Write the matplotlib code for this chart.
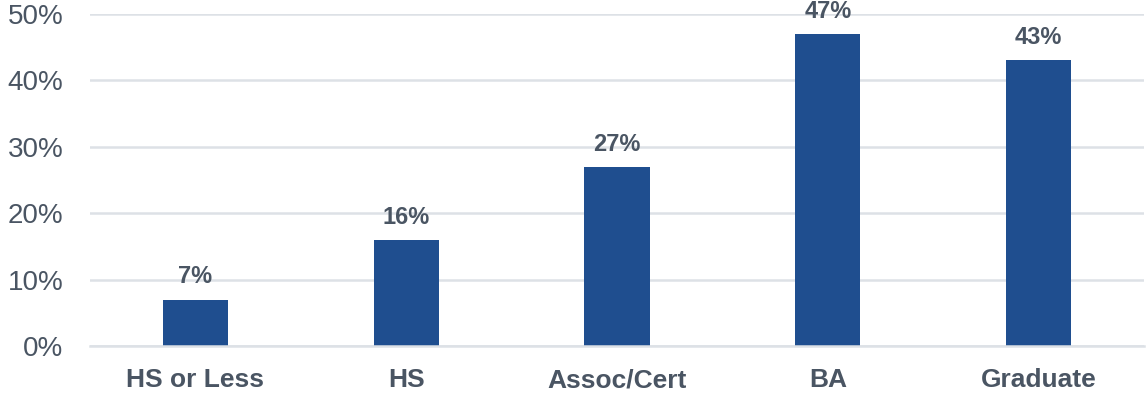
import matplotlib.pyplot as plt
from matplotlib.ticker import PercentFormatter

categories = ["HS or Less", "HS", "Assoc/Cert", "BA", "Graduate"]
values = [7, 16, 27, 47, 43]

plt.rcParams['font.family'] = ['Liberation Sans', 'DejaVu Sans']

fig = plt.figure(figsize=(11.46, 3.97), dpi=100)
ax = fig.add_axes([90 / 1146, 51 / 397, 1054 / 1146, 332 / 397])

bars = ax.bar(categories, values, width=0.31, color='#1F4E8F', zorder=3)
ax.set_xlim(-0.5, len(categories) - 0.5)
ax.set_ylim(0, 50)
ax.set_yticks(range(0, 51, 10))
ax.yaxis.set_major_formatter(PercentFormatter(decimals=0))
ax.grid(axis='y', color='#DDE1E6', linewidth=1.8, zorder=0)

for s in ['top', 'right', 'left']:
    ax.spines[s].set_visible(False)
ax.spines['bottom'].set_color('#DDE1E6')
ax.spines['bottom'].set_linewidth(1.8)
ax.spines['bottom'].set_zorder(4)

ax.tick_params(axis='y', length=0, pad=19, labelsize=20, labelcolor='#4A5563')
ax.tick_params(axis='x', length=0, pad=16, labelsize=19, labelcolor='#4A5563')
for lbl in ax.get_xticklabels():
    lbl.set_fontweight('bold')

for b, v in zip(bars, values):
    ax.annotate(f"{v}%", (b.get_x() + b.get_width() / 2, v), xytext=(0, 8),
                textcoords='offset points', ha='center', va='bottom',
                fontsize=17, fontweight='bold', color='#4A5563', annotation_clip=False)

fig.savefig('out.png', dpi=100)
